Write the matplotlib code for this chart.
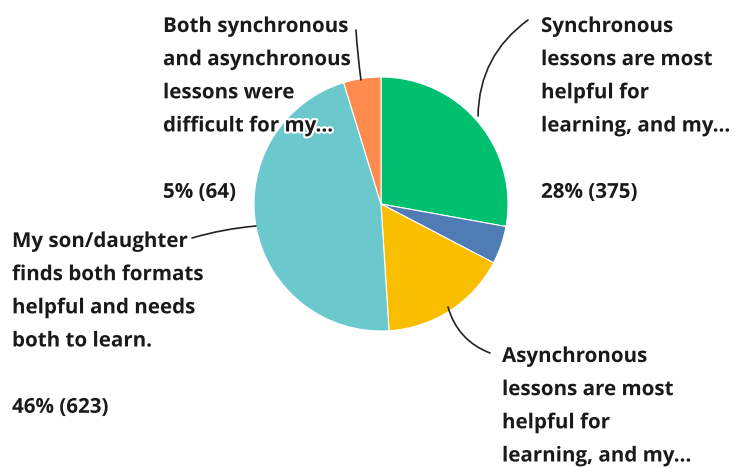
import matplotlib.pyplot as plt
import matplotlib.patheffects as pe

# data
labels = [
    "Synchronous\nlessons are most\nhelpful for\nlearning, and my...",
    "",
    "Asynchronous\nlessons are most\nhelpful for\nlearning, and my...",
    "My son/daughter\nfinds both formats\nhelpful and needs\nboth to learn.",
    "Both synchronous\nand asynchronous\nlessons were\ndifficult for my...",
]
counts = [375, 65, 220, 623, 64]
percents = [28, 5, 16, 46, 5]
colors = ['#00BF6F', '#507CB6', '#F9BE00', '#6BC8CD', '#FF8B4F']

W, H = 744, 468
fig = plt.figure(figsize=(W / 100, H / 100), dpi=100)
ax = fig.add_axes([0, 0, 1, 1])

cx, cy, r = 381, H - 204, 127
ax.pie(counts, colors=colors, startangle=90, counterclock=False,
       center=(cx, cy), radius=r, frame=True,
       wedgeprops=dict(edgecolor='white', linewidth=0.8))
ax.set_xlim(0, W)
ax.set_ylim(0, H)
ax.set_aspect('equal')
ax.axis('off')

# label position (top-left, pixels from top) and leader line (text end -> pie edge)
label_pos = {0: (541, 16), 2: (502, 346), 3: (12, 231), 4: (163, 16)}
leaders = {
    0: ((528, 20), (478, 116), 0.25),
    2: ((490, 353), (448, 307), -0.25),
    3: ((192, 238), (256, 226), -0.05),
    4: ((356, 30), (361, 80), 0.02),
}

line_kw = dict(arrowstyle='-', color='#222222', lw=1.2, shrinkA=0, shrinkB=0)
for i, (p0, p1, rad) in leaders.items():
    ax.annotate('', xy=(p1[0], H - p1[1]), xytext=(p0[0], H - p0[1]),
                arrowprops=dict(connectionstyle=f'arc3,rad={rad}', **line_kw))

for i, (x, y) in label_pos.items():
    txt = f"{labels[i]}\n\n{percents[i]}% ({counts[i]})"
    if i == 2:
        # the value line falls below the chart edge in the original
        txt = labels[i]
    ax.text(x, H - y, txt, ha='left', va='top', fontsize=14.8,
            fontfamily='Open Sans', fontweight='bold', color='#1a1a1a',
            linespacing=1.76,
            path_effects=[pe.withStroke(linewidth=3, foreground='white')])

plt.savefig('out.png', dpi=100)
